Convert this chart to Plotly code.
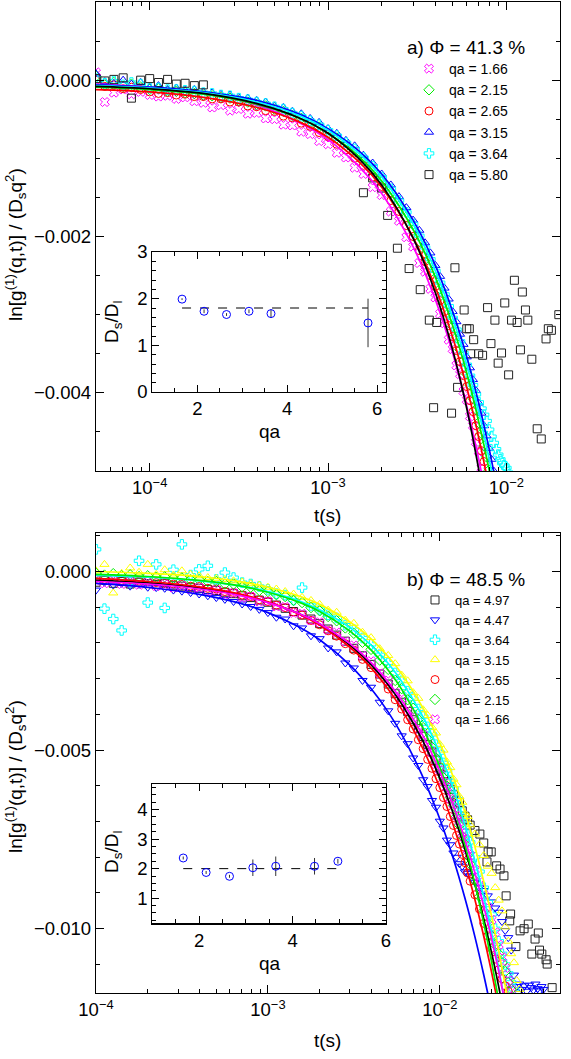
import math
import plotly.graph_objects as go

FONT = "Liberation Sans, Arial, Helvetica, sans-serif"

# ================= panel a) Phi = 41.3 % =================
# delay times (ms)
t_a_ms = [0.050, 0.056, 0.063, 0.071, 0.079, 0.089, 0.100, 0.112, 0.126, 0.141, 0.158, 0.178,
          0.200, 0.224, 0.251, 0.282, 0.316, 0.355, 0.398, 0.447, 0.501, 0.562, 0.631, 0.708,
          0.794, 0.891, 1.00, 1.12, 1.26, 1.41, 1.58, 1.78, 2.00, 2.25, 2.50, 2.75, 3.00, 3.25,
          3.50, 3.75, 4.00, 4.25, 4.50, 4.75, 5.00, 5.25, 5.50, 5.75, 6.00, 6.25, 6.50, 6.75,
          7.00, 7.25, 7.50, 7.75, 8.00, 8.25, 8.50, 8.75, 9.00, 9.25, 9.50, 9.75, 10.00, 10.25, 10.50]

# ln g1 / (Ds q^2), in units of 1e-3
y_a_166 = [0.10, -0.28, -0.16, -0.12, -0.18, -0.15, -0.19, -0.21, -0.20, -0.24, -0.22, -0.27,
           -0.29, -0.35, -0.32, -0.39, -0.37, -0.43, -0.42, -0.49, -0.50, -0.57, -0.58, -0.66, -0.69, -0.78,
           -0.82, -0.93, -0.99, -1.12, -1.20, -1.37, -1.47,
           -1.68, -1.80, -2.01, -2.13, -2.34, -2.45, -2.67, -2.78, -2.99, -3.11, -3.32, -3.44, -3.65,
           -3.76, -3.98, -4.09, -4.30, -4.42, -4.63, -4.75, -4.96, -5.07]
y_a_215 = [0.05, -0.06, -0.03, -0.08, -0.05, -0.09,
           -0.12, -0.11, -0.14, -0.14, -0.16, -0.17, -0.19, -0.20, -0.22, -0.23, -0.26, -0.28, -0.31,
           -0.33, -0.37, -0.40, -0.45, -0.49, -0.55, -0.60,
           -0.68, -0.74, -0.84, -0.92, -1.04, -1.15, -1.30,
           -1.44, -1.61, -1.75, -1.92, -2.06, -2.22, -2.36, -2.53, -2.67, -2.84, -2.98, -3.15, -3.29,
           -3.45, -3.59, -3.76, -3.90, -4.07, -4.21, -4.38, -4.52, -4.68, -4.82, -4.99, -5.13]
y_a_265 = [0.00, -0.08, -0.06, -0.11, -0.09, -0.12, -0.15, -0.17, -0.16, -0.19, -0.18, -0.21,
           -0.21, -0.24, -0.24, -0.28, -0.28, -0.33, -0.34, -0.39, -0.40, -0.46, -0.48, -0.55, -0.59,
           -0.67, -0.72, -0.82, -0.89, -1.00, -1.09, -1.24, -1.36, -1.54, -1.68, -1.86, -2.00, -2.18,
           -2.32, -2.50, -2.64, -2.82, -2.96, -3.14, -3.28, -3.46, -3.60, -3.78, -3.92, -4.10, -4.24,
           -4.42, -4.56, -4.74, -4.88, -5.06]
y_a_315 = [0.08, -0.02, -0.04, 0.00, -0.05, -0.03, -0.09, -0.07, -0.12, -0.10, -0.13, -0.12,
           -0.15, -0.16, -0.18, -0.19, -0.22, -0.23, -0.26, -0.28, -0.33, -0.35, -0.40, -0.43, -0.49,
           -0.54, -0.62, -0.68, -0.77, -0.84, -0.96, -1.06, -1.20, -1.34, -1.49, -1.63, -1.79, -1.92,
           -2.08, -2.21, -2.37, -2.51, -2.66, -2.80, -2.96, -3.09, -3.25, -3.38, -3.54, -3.68, -3.83,
           -3.97, -4.13, -4.26, -4.42, -4.55, -4.71, -4.85, -5.00, -5.15]
y_a_364 = [0.02, -0.04, -0.01, -0.06, -0.03, -0.05,
           -0.10, -0.10, -0.12, -0.12, -0.13, -0.14, -0.16, -0.17, -0.19, -0.20, -0.23, -0.25, -0.28,
           -0.30, -0.34, -0.37, -0.42, -0.46, -0.52, -0.57,
           -0.64, -0.71, -0.80, -0.88, -0.99, -1.10, -1.24,
           -1.39, -1.54, -1.69, -1.84, -1.99, -2.14, -2.29, -2.44, -2.59, -2.74, -2.89, -3.04, -3.19,
           -3.34, -3.49, -3.64, -3.78, -3.90, -4.02, -4.12, -4.20, -4.28, -4.36, -4.47, -4.56, -4.64,
           -4.72, -4.79, -4.85, -4.90, -4.93, -4.96, -5.02]
t_a_580_ms = [0.050, 0.056, 0.063, 0.071, 0.079, 0.089, 0.100, 0.112, 0.126, 0.141, 0.158, 0.178,
              0.200, 1.58, 1.78, 2.00,
              2.16, 2.45, 2.85, 3.29, 3.70, 3.91, 4.07, 4.93, 5.15, 5.33,
              5.80, 6.00, 6.20, 6.30, 6.56, 7.00, 7.36, 7.85, 8.20, 8.63,
              9.00, 9.40, 9.80, 10.3, 10.7, 11.1, 11.5, 12.0, 12.3, 12.8,
              13.2, 13.9, 14.9, 15.7, 16.7, 17.2, 17.9, 19.7]
y_a_580 = [0.02, -0.01, 0.01, 0.03, -0.23, 0.00, 0.02, -0.03, 0.01, -0.05, -0.04, -0.07,
           -0.06, -1.44, -1.25, -1.38,
           -1.73, -2.15, -2.41, -2.68, -3.07, -4.19, -3.10, -4.26, -2.40, -3.93,
           -2.94, -3.18, -3.18, -3.50, -3.32, -3.50, -3.52, -2.91, -3.37, -3.07,
           -3.62, -3.49, -2.85, -3.77, -3.07, -2.56, -3.10, -3.45, -2.71, -2.94,
           -3.07, -3.57, -4.46, -4.59, -3.31, -3.18, -3.20, -3.00]

# fitted curves (ms, 1e-3 units)
t_a_fit_ms = [0.05, 0.1, 0.2, 0.4, 0.7, 1.0, 1.5, 2.0, 3.0, 4.0, 5.0, 6.0, 7.0, 8.0, 9.0, 10.0]
fit_a_166 = [-0.05, -0.09, -0.17, -0.32, -0.55, -0.76, -1.11, -1.45, -2.13, -2.81, -3.49, -4.17, -4.85, -5.53]
fit_a_215 = [-0.09, -0.12, -0.18, -0.31, -0.49, -0.68, -0.98, -1.29, -1.91, -2.52, -3.14, -3.75, -4.37, -4.98, -5.60]
fit_a_265 = [-0.12, -0.15, -0.22, -0.35, -0.54, -0.73, -1.05, -1.37, -2.01, -2.65, -3.29, -3.93, -4.57, -5.21]
fit_a_315 = [-0.06, -0.09, -0.15, -0.26, -0.44, -0.62, -0.91, -1.20, -1.79, -2.37, -2.96, -3.54, -4.13, -4.71, -5.30]
fit_a_364 = [-0.07, -0.10, -0.16, -0.28, -0.46, -0.64, -0.94, -1.24, -1.84, -2.44, -3.04, -3.64, -4.24, -4.84, -5.44]
fit_a_580 = [-0.08, -0.11, -0.17, -0.30, -0.49, -0.68, -1.01, -1.34, -2.02, -2.72, -3.45, -4.20, -4.98, -5.79]

# inset a
inset_a_qa = [1.66, 2.15, 2.65, 3.15, 3.64, 5.80]
inset_a_ratio = [1.99, 1.73, 1.66, 1.73, 1.68, 1.48]
inset_a_err = [0.02, 0.04, 0.03, 0.04, 0.09, 0.52]
inset_a_mean = 1.8

# ================= panel b) Phi = 48.5 % =================
t_b_ms = [0.100, 0.112, 0.126, 0.141, 0.158, 0.178, 0.200, 0.224, 0.251, 0.282, 0.316, 0.355,
          0.398, 0.447, 0.501, 0.562, 0.631, 0.708, 0.794, 0.891, 1.00, 1.12, 1.26, 1.41, 1.58,
          1.78, 2.00, 2.24, 2.51, 2.82, 3.16, 3.55, 3.98, 4.47, 5.01,
          5.5, 6.0, 6.5, 7.0, 7.5, 8.0, 8.5, 9.0, 9.5, 10.0, 10.5, 11.0, 11.5, 12.0, 12.5, 13.0,
          13.5, 14.0, 14.5, 15.0,
          16, 17, 18, 19, 20, 21, 22, 23, 24, 25, 26, 27, 28, 29, 30, 31, 32, 33, 34, 35, 36, 37,
          38, 39, 40]

t_b_497_ms = [0.100, 0.112, 0.126, 0.141, 0.158, 0.178, 0.200, 0.224, 0.251, 0.282, 0.316, 0.355,
              0.398, 0.447, 0.501, 0.562, 0.631, 0.708, 0.794, 0.891, 1.00, 1.12, 1.26, 1.41, 1.58,
              1.78, 2.00, 2.24, 2.51, 2.82, 3.16, 3.55, 3.98, 4.47, 5.01,
              5.5, 6.0, 6.5, 7.0, 7.5, 8.0, 8.5, 9.0, 9.5, 10.0, 10.5, 11.0, 11.5, 12.0, 12.5, 13.0,
              13.5, 14.0, 14.5, 15.0,
              16.0, 17.1, 18.0, 18.8, 19.1, 19.9, 21.4, 22.4, 23.6, 24.3, 25.5, 25.8, 27.7, 29.3,
              30.9, 32.7, 34.3, 35.8, 37.4, 38.0, 39.2, 41.5, 42.1, 45.0]
y_b_497 = [-0.30, -0.25, -0.33, -0.28, -0.35, -0.30, -0.34, -0.36, -0.33, -0.40,
           -0.41, -0.44, -0.47, -0.50, -0.53, -0.58, -0.62, -0.68, -0.73, -0.80,
           -0.86, -0.94, -1.03, -1.12, -1.22, -1.33, -1.46, -1.61, -1.78, -1.95,
           -2.15, -2.36, -2.60, -2.87, -3.15,
           -3.42, -3.66, -3.92, -4.15, -4.40, -4.62, -4.85, -5.05, -5.28, -5.50,
           -5.70, -5.88, -6.10, -6.25, -6.40, -6.46, -6.70, -6.85, -6.95, -7.10,
           -7.25, -7.35, -7.60, -8.13, -7.85, -7.85, -8.24, -8.33, -8.52, -9.08, -9.78, -9.59,
           -10.50, -10.06, -10.00, -9.87, -10.71, -10.29, -10.12, -10.60, -10.71, -10.87, -10.99, -11.65]
y_b_447 = [-0.52, -0.30, -0.38, -0.33, -0.41, -0.36, -0.44, -0.45, -0.47, -0.52, -0.55, -0.59,
           -0.63, -0.68, -0.73, -0.78, -0.84, -0.91, -0.98, -1.06,
           -1.15, -1.28, -1.33, -1.52, -1.58, -1.80, -1.88, -2.14, -2.25, -2.56, -2.70, -3.05, -3.24,
           -3.66, -3.90,
           -4.25, -4.60, -4.82, -5.22, -5.43, -5.83, -6.02, -6.41, -6.60, -6.99, -7.18, -7.52, -7.65,
           -7.88, -8.00, -8.18, -8.25, -8.41, -8.45, -8.52,
           -8.70, -8.85, -8.93, -9.08, -9.25, -9.42, -9.54, -9.80, -10.05, -10.25, -10.60, -11.30,
           -11.62, -11.55, -11.70, -11.60, -11.75, -11.58, -11.65, -11.72, -11.55, -11.68, -11.74,
           -11.62, -11.70]
y_b_364 = [0.62, -1.04, -1.33, -1.65, -0.30, 0.30, -0.87, 0.20, -1.02, 0.05, 0.76, -0.10,
           0.06, 0.16, -0.22, -0.03, -0.17, -0.31, -0.35, -0.42, -0.50, -0.62, -0.66, -0.80, -0.45,
           -0.95, -1.06, -1.21, -1.30, -1.50, -1.63, -1.86, -2.04, -2.33, -2.56,
           -2.84, -3.06, -3.35, -3.56, -3.85, -4.06, -4.35, -4.56, -4.85, -5.07, -5.36, -5.57, -5.86,
           -6.07, -6.36, -6.57, -6.86, -7.08, -7.37, -7.58,
           -8.00, -8.40, -8.85, -9.25, -9.60, -10.00, -10.35, -10.70, -11.00, -11.25, -11.50, -11.70]
y_b_315 = [0.02, 0.20, -0.60, -0.05, 0.10, -0.02, 0.20, -0.08, 0.05, -0.10, 0.02, -0.08,
           -0.12, -0.17, -0.19, -0.22, -0.26, -0.29, -0.34, -0.38, -0.44, -0.49, -0.56, -0.63,
           -0.72, -0.81, -0.92, -1.08, -1.14, -1.36, -1.45, -1.70, -1.85, -2.16, -2.35,
           -2.58, -2.90, -3.06, -3.39, -3.55, -3.87, -4.03, -4.36, -4.52, -4.84, -5.00, -5.33, -5.49,
           -5.81, -5.97, -6.30, -6.46, -6.78, -6.86, -7.09,
           -7.35, -7.65, -7.95, -8.25, -8.45, -8.85, -9.20, -9.50, -9.95, -10.35, -10.70, -10.95,
           -11.45, -11.70]
y_b_265 = [-0.19, -0.22, -0.20, -0.25, -0.23, -0.27, -0.27, -0.31, -0.31, -0.35, -0.36, -0.41,
           -0.42, -0.47, -0.49, -0.56, -0.59, -0.66, -0.70, -0.79, -0.84, -0.94, -1.01, -1.13,
           -1.22, -1.37, -1.49, -1.66, -1.81, -2.02, -2.20, -2.46, -2.69, -2.99, -3.29,
           -3.59, -3.85, -4.15, -4.41, -4.71, -4.96, -5.26, -5.51, -5.80, -6.05, -6.33, -6.58, -6.86,
           -7.11, -7.39, -7.63, -7.92, -8.15, -8.44, -8.67,
           -9.05, -9.45, -9.85, -10.20, -10.55, -10.85, -11.15, -11.40, -11.60, -11.75]
y_b_215 = [-0.05, -0.10, -0.06, -0.12, -0.09, -0.14, -0.12, -0.16, -0.15, -0.19, -0.18, -0.23,
           -0.23, -0.28, -0.28, -0.35, -0.35, -0.43, -0.44, -0.53, -0.56, -0.65, -0.70, -0.81,
           -0.87, -1.01, -1.10, -1.26, -1.38, -1.58, -1.73, -1.98, -2.18, -2.48, -2.74,
           -3.05, -3.28, -3.59, -3.83, -4.14, -4.37, -4.68, -4.92, -5.23, -5.46, -5.77, -6.01, -6.32,
           -6.55, -6.86, -7.10, -7.41, -7.64, -7.95, -8.19,
           -8.65, -9.10, -9.50, -9.85, -10.20, -10.45, -10.70, -10.95, -11.20, -11.50, -11.70]
y_b_166 = [-0.24, -0.33, -0.26, -0.35, -0.29, -0.37, -0.32, -0.41, -0.36, -0.45, -0.40, -0.50,
           -0.45, -0.56, -0.52, -0.64, -0.60, -0.73, -0.70, -0.84, -0.83, -0.98, -0.99, -1.16,
           -1.18, -1.37, -1.42, -1.64, -1.71, -1.96, -2.07, -2.36, -2.51, -2.85, -3.05,
           -3.39, -3.57, -3.90, -4.07, -4.41, -4.57, -4.90, -5.07, -5.39, -5.56, -5.88, -6.04, -6.36,
           -6.52, -6.84, -6.99, -7.32, -7.47, -7.79, -7.94,
           -8.35, -8.70, -9.05, -9.40, -9.75, -10.10, -10.45, -10.80, -11.10, -11.45, -11.70]

t_b_fit_ms = [0.1, 0.2, 0.4, 0.7, 1.0, 1.5, 2.0, 3.0, 4.0, 5.0, 6.0, 8.0, 10.0, 12.0, 14.0, 16.0,
              18.0, 20.0, 22.0, 24.0, 26.0]
fit_b_497 = [-0.24, -0.32, -0.46, -0.66, -0.86, -1.17, -1.47, -2.06, -2.62, -3.17, -3.71, -4.76,
             -5.79, -6.79, -7.78, -8.76, -9.72, -10.67, -11.62, -12.55]
fit_b_447 = [-0.33, -0.44, -0.64, -0.90, -1.15, -1.54, -1.91, -2.62, -3.29, -3.93, -4.56, -5.77,
             -6.93, -8.05, -9.15, -10.23, -11.29, -12.32]
fit_b_364 = [-0.11, -0.16, -0.26, -0.41, -0.56, -0.81, -1.07, -1.57, -2.07, -2.57, -3.08, -4.08,
             -5.09, -6.09, -7.10, -8.10, -9.11, -10.11, -11.12, -12.12]
fit_b_315 = [0.00, -0.05, -0.14, -0.29, -0.44, -0.68, -0.92, -1.41, -1.89, -2.38, -2.86, -3.83,
             -4.80, -5.77, -6.74, -7.71, -8.68, -9.65, -10.62, -11.59, -12.56]
fit_b_265 = [-0.19, -0.28, -0.43, -0.64, -0.85, -1.18, -1.50, -2.12, -2.71, -3.29, -3.86, -4.97,
             -6.06, -7.12, -8.16, -9.19, -10.21, -11.22, -12.21]
fit_b_215 = [-0.08, -0.14, -0.25, -0.41, -0.58, -0.85, -1.12, -1.67, -2.21, -2.76, -3.30, -4.39,
             -5.48, -6.57, -7.66, -8.75, -9.84, -10.93, -12.02]
fit_b_166 = [-0.28, -0.35, -0.49, -0.68, -0.87, -1.17, -1.46, -2.02, -2.56, -3.09, -3.61, -4.61,
             -5.60, -6.56, -7.51, -8.44, -9.37, -10.28, -11.19, -12.08]

inset_b_qa = [1.66, 2.15, 2.65, 3.15, 3.64, 4.47, 4.97]
inset_b_ratio = [2.36, 1.87, 1.74, 2.03, 2.08, 2.08, 2.25]
inset_b_err = [0.05, 0.05, 0.05, 0.28, 0.33, 0.28, 0.08]
inset_b_mean = 2.0


def sec(v):
    return [x * 1e-3 for x in v]


def val(v):
    return [x * 1e-3 for x in v]


MAG, GRN, RED, BLU, CYN, YEL, BLK = ("#ff00ff", "#00ee00", "#ff0000", "#0000ff", "#00ffff",
                                    "#ffff00", "#000000")
SQ = "#222222"

fig = go.Figure()

series_a = [
    ("qa = 1.66", MAG, "x-open", t_a_ms, y_a_166, fit_a_166),
    ("qa = 2.15", GRN, "diamond-open", t_a_ms, y_a_215, fit_a_215),
    ("qa = 2.65", RED, "circle-open", t_a_ms, y_a_265, fit_a_265),
    ("qa = 3.15", BLU, "triangle-up-open", t_a_ms, y_a_315, fit_a_315),
    ("qa = 3.64", CYN, "cross-open", t_a_ms, y_a_364, fit_a_364),
    ("qa = 5.80", SQ, "square-open", t_a_580_ms, y_a_580, fit_a_580),
]
for name, col, sym, tt, yy, _ in series_a:
    fig.add_trace(go.Scatter(x=sec(tt[:len(yy)]), y=val(yy), mode="markers", name=name,
                             xaxis="x", yaxis="y", legend="legend",
                             marker=dict(symbol=sym, size=8, color=col, line=dict(width=1, color=col))))
for name, col, sym, tt, yy, ff in series_a:
    lc = BLK if col == SQ else col
    fig.add_trace(go.Scatter(x=sec(t_a_fit_ms[:len(ff)]), y=val(ff), mode="lines", showlegend=False,
                             xaxis="x", yaxis="y", hoverinfo="skip",
                             line=dict(color=lc, width=1.7, shape="spline")))

series_b = [
    ("qa = 4.97", SQ, "square-open", t_b_497_ms, y_b_497, fit_b_497),
    ("qa = 4.47", BLU, "triangle-down-open", t_b_ms, y_b_447, fit_b_447),
    ("qa = 3.64", CYN, "cross-open", t_b_ms, y_b_364, fit_b_364),
    ("qa = 3.15", YEL, "triangle-up-open", t_b_ms, y_b_315, fit_b_315),
    ("qa = 2.65", RED, "circle-open", t_b_ms, y_b_265, fit_b_265),
    ("qa = 2.15", GRN, "diamond-open", t_b_ms, y_b_215, fit_b_215),
    ("qa = 1.66", MAG, "x-open", t_b_ms, y_b_166, fit_b_166),
]
for name, col, sym, tt, yy, _ in series_b:
    fig.add_trace(go.Scatter(x=sec(tt[:len(yy)]), y=val(yy), mode="markers", name=name,
                             xaxis="x2", yaxis="y2", legend="legend2",
                             marker=dict(symbol=sym, size=8, color=col, line=dict(width=1, color=col))))
for name, col, sym, tt, yy, ff in series_b:
    lc = BLK if col == SQ else col
    fig.add_trace(go.Scatter(x=sec(t_b_fit_ms[:len(ff)]), y=val(ff), mode="lines", showlegend=False,
                             xaxis="x2", yaxis="y2", hoverinfo="skip",
                             line=dict(color=lc, width=1.7, shape="spline")))

# insets
for qa, ratio, err, mean, xa, ya in [(inset_a_qa, inset_a_ratio, inset_a_err, inset_a_mean, "x3", "y3"),
                                      (inset_b_qa, inset_b_ratio, inset_b_err, inset_b_mean, "x4", "y4")]:
    fig.add_trace(go.Scatter(x=[qa[0], qa[-1]], y=[mean, mean], mode="lines", showlegend=False,
                             xaxis=xa, yaxis=ya, line=dict(color="black", width=1, dash="dash")))
    fig.add_trace(go.Scatter(x=qa, y=ratio, mode="markers", showlegend=False, xaxis=xa, yaxis=ya,
                             error_y=dict(type="data", array=err, color="#333333", thickness=1, width=0),
                             marker=dict(symbol="circle-open", size=8, color=BLU, line=dict(width=1, color=BLU))))

W, H = 571, 1059
px = lambda x: x / W
py = lambda y: 1 - y / H

tickfont = dict(size=18.5, family=FONT, color="black")
common = dict(showline=True, linecolor="black", linewidth=1.2, mirror="allticks", ticks="inside",
              ticklen=8, tickwidth=1, tickcolor="black", showgrid=False, zeroline=False,
              tickfont=tickfont, automargin=False)
minor_log = [k * 10.0 ** e for e in (-5, -4, -3, -2) for k in range(2, 10)]

fig.update_layout(
    template="none",
    width=W, height=H, autosize=False, margin=dict(l=0, r=0, t=0, b=0, pad=0),
    paper_bgcolor="white", plot_bgcolor="white", font=dict(family=FONT, color="black"),
    xaxis=dict(common, type="log", domain=[px(96), px(560)], anchor="y",
               range=[math.log10(5e-5), math.log10(2e-2)],
               tickmode="array", tickvals=[1e-4, 1e-3, 1e-2],
               ticktext=["10<sup>−4</sup>", "10<sup>−3</sup>", "10<sup>−2</sup>"],
               minor=dict(tickmode="array", tickvals=minor_log, ticks="inside", ticklen=4,
                          tickcolor="black", tickwidth=1)),
    yaxis=dict(common, domain=[py(471), py(2)], anchor="x", range=[-0.005, 0.001],
               tick0=0, dtick=0.002, tickformat=".3f",
               minor=dict(dtick=0.0005, tick0=0, ticks="inside", ticklen=4, tickcolor="black")),
    xaxis2=dict(common, type="log", domain=[px(96), px(560)], anchor="y2",
                range=[-4, math.log10(5e-2)],
                tickmode="array", tickvals=[1e-4, 1e-3, 1e-2],
                ticktext=["10<sup>−4</sup>", "10<sup>−3</sup>", "10<sup>−2</sup>"],
                minor=dict(tickmode="array", tickvals=minor_log, ticks="inside", ticklen=4,
                           tickcolor="black", tickwidth=1)),
    yaxis2=dict(common, domain=[py(993), py(533.3)], anchor="x2", range=[-0.0118, 0.00107],
                tick0=0, dtick=0.005, tickformat=".3f",
                minor=dict(dtick=0.001, tick0=0, ticks="inside", ticklen=4, tickcolor="black")),
    xaxis3=dict(common, domain=[px(152.4), px(386)], anchor="y3", range=[1, 6.2], tick0=0, dtick=2,
                ticklen=7, minor=dict(dtick=0.5, tick0=0, ticks="inside", ticklen=4, tickcolor="black")),
    yaxis3=dict(common, domain=[py(392), py(252)], anchor="x3", range=[0, 3], tick0=0, dtick=1,
                ticklen=7, minor=dict(dtick=0.2, tick0=0, ticks="inside", ticklen=4, tickcolor="black")),
    xaxis4=dict(common, domain=[px(152.4), px(386)], anchor="y4", range=[1, 6], tick0=0, dtick=2,
                ticklen=7, minor=dict(dtick=0.5, tick0=0, ticks="inside", ticklen=4, tickcolor="black")),
    yaxis4=dict(common, domain=[py(923.3), py(784.4)], anchor="x4", range=[0.15, 4.85], tick0=0,
                dtick=1, ticklen=7,
                minor=dict(dtick=0.25, tick0=0, ticks="inside", ticklen=4, tickcolor="black")),
    legend=dict(x=px(409), y=py(53), xanchor="left", yanchor="top", bgcolor="rgba(0,0,0,0)",
                borderwidth=0, tracegroupgap=0, font=dict(size=14, family=FONT, color="black")),
    legend2=dict(x=px(415), y=py(585), xanchor="left", yanchor="top", bgcolor="rgba(0,0,0,0)",
                 borderwidth=0, tracegroupgap=0, font=dict(size=13, family=FONT, color="black")),
)


def ann(text, x, y, size, angle=0):
    return dict(text=text, x=px(x), y=py(y), xref="paper", yref="paper", showarrow=False,
                textangle=angle, xanchor="center", yanchor="middle",
                font=dict(size=size, family=FONT, color="black"))


ytitle = "ln[g<sup>(1)</sup>(q,t)] / (D<sub>s</sub>q<sup>2</sup>)"
fig.update_layout(annotations=[
    ann(ytitle, 15, 245, 19, -90),
    ann("t(s)", 328, 515, 19),
    ann(ytitle, 15, 777, 19, -90),
    ann("t(s)", 328, 1040, 19),
    ann("D<sub>s</sub>/D<sub>l</sub>", 113, 322, 19, -90),
    ann("qa", 270, 431, 19),
    ann("D<sub>s</sub>/D<sub>l</sub>", 113, 852, 19, -90),
    ann("qa", 270, 963, 19),
    ann("a) Φ = 41.3 %", 466, 47, 19),
    ann("b) Φ = 48.5 %", 466, 579, 19),
])

fig.write_html("out.html", config={"displayModeBar": False, "staticPlot": True},
               post_script="document.body.style.margin='0px';document.body.style.padding='0px';")
